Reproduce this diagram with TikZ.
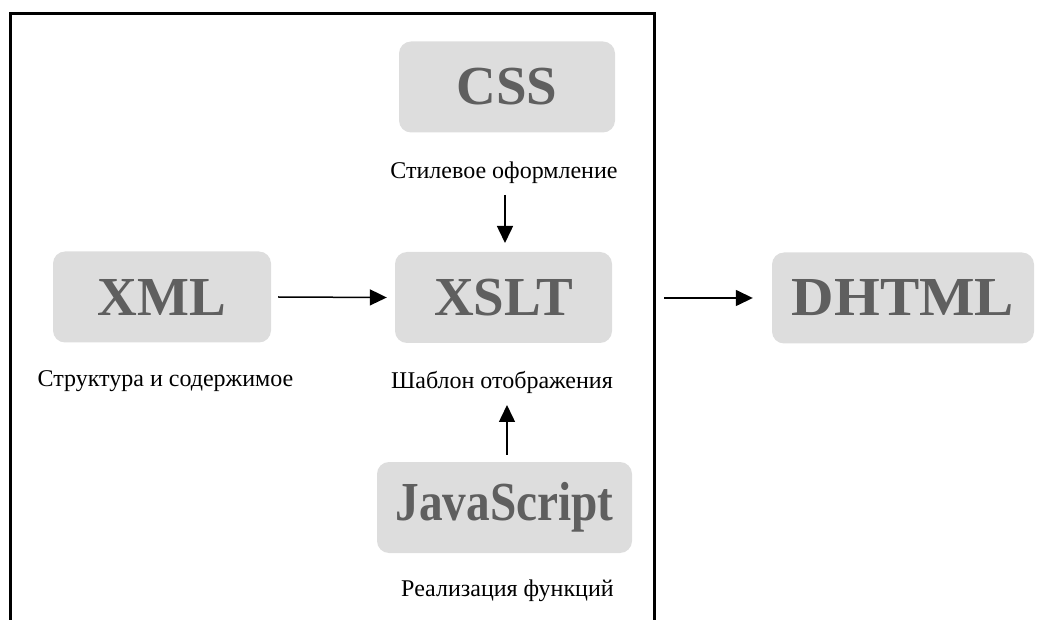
\documentclass[tikz,border=0pt]{standalone}
\usepackage{fontspec}
\setmainfont{Liberation Serif}
\usetikzlibrary{arrows.meta}
\definecolor{boxgray}{HTML}{DDDDDD}
\definecolor{txtgray}{HTML}{5F5F5F}
\begin{document}
\begin{tikzpicture}[x=1pt, y=-1pt,
	box/.style={ fill=boxgray, rounded corners=12pt, minimum height=91pt, inner sep=0pt, text=txtgray, font=\fontsize{55}{60}\selectfont\bfseries },
	lbl/.style={ text=black, inner sep=0pt, font=\fontsize{24}{28}\selectfont },
	arr/.style={ -{Triangle[length=17pt, width=16pt]}, line width=1.5pt }]
	\useasboundingbox (0,0) rectangle (1037,620);
	\draw[line width=3pt] (10,640) -- (10,14) -- (654,14) -- (654,640);

	\node[box, minimum width=216pt] (css) at (507,87) {CSS};
	\node[box, minimum width=218pt] (xml) at (162,297) {XML};
	\node[box, minimum width=217pt] (xslt) at (503.5,297.5) {XSLT};
	\node[box, minimum width=255pt] (js) at (504.5,507.5) {\scalebox{0.86}[1]{JavaScript}};
	\node[box, minimum width=262pt] (dhtml) at (903,298) {\scalebox{1.07}[1]{DHTML}};

	\node[lbl] (csslbl) at (504,173) {Стилевое оформление};
	\node[lbl] (xmllbl) at (165.5,381) {Структура и содержимое};
	\node[lbl] (xsltlbl) at (502,382) {Шаблон отображения};
	\node[lbl] (jslbl) at (507.5,591) {Реализация функций};

	\coordinate (cssout) at (505,195);
	\coordinate (jsout) at (507,455);
	\coordinate (frame) at (664,298);
	\draw[arr] (cssout) -- (cssout |- 0,243);
	\draw[arr] ([xshift=7pt]xml.east) -- ([xshift=-8pt]xslt.west);
	\draw[arr] (jsout) -- (jsout |- 0,405);
	\draw[arr] (frame) -- ([xshift=-19pt]dhtml.west);
\end{tikzpicture}
\end{document}
